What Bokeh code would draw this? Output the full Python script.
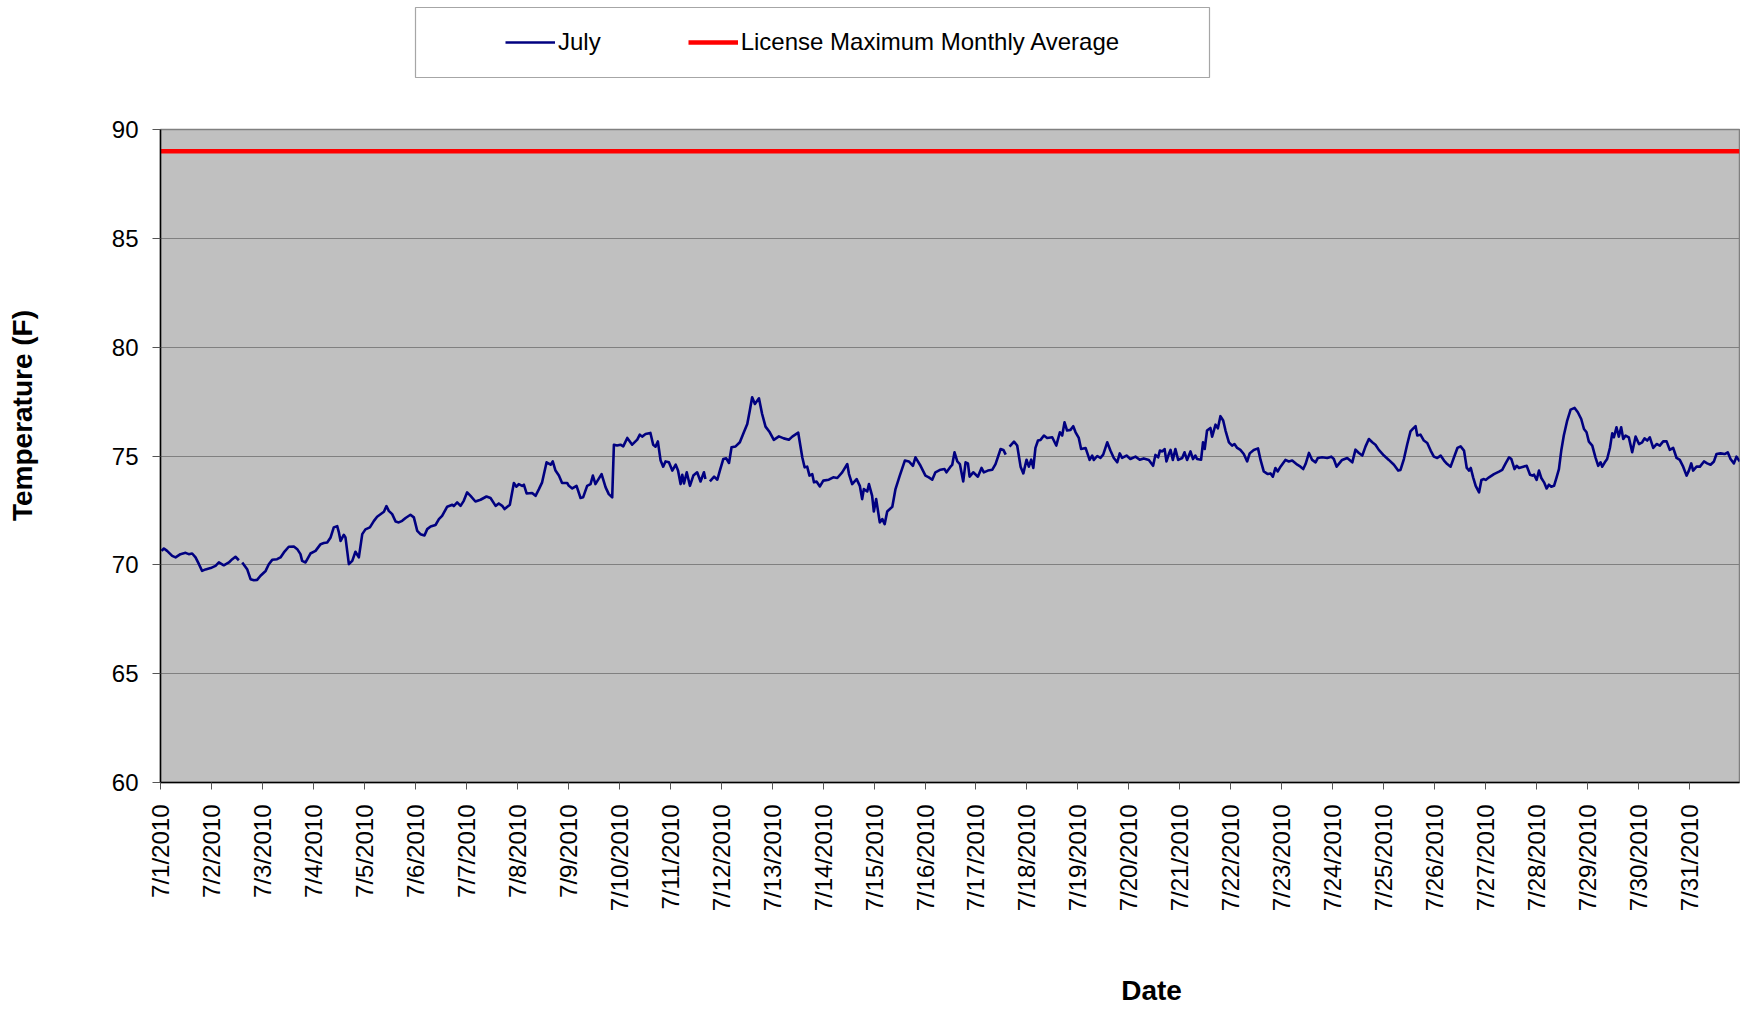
import math
from bokeh.plotting import figure
from bokeh.layouts import column, row
from bokeh.models import (ColumnDataSource, FixedTicker, Legend, LegendItem, Label, Range1d)
from bokeh.embed import file_html
from bokeh.resources import INLINE

nan = float("nan")

# ---------------- data ----------------
# hours since 7/1/2010 00:00, and water temperature (F)
hours_a = [0.5, 1.6, 3.1, 5.5, 7.1, 9.4, 11.8, 13.3, 14.9, 16.5,
           18.1, 19.6, 21.2, 23.6, 25.9, 27.5, 29.8, 32.2, 33.8, 35.3,
           36.9, 37.7, 38.5, 40.8, 42.4, 44.0, 45.5, 47.1, 49.5, 51.0,
           52.6, 54.9, 56.5, 58.1, 60.4, 62.8, 64.4, 65.9, 66.7, 68.3,
           70.6, 73.0, 75.4, 76.9, 78.5, 80.1, 81.6, 83.2, 84.0, 84.8,
           86.3, 87.1, 88.7, 90.3, 91.8, 93.4, 95.0, 96.5, 98.6, 100.5,
           102.0, 105.2, 106.4, 107.5, 109.1, 110.7, 112.2, 113.8, 115.4, 117.7,
           119.3, 120.9, 122.4, 124.3, 125.6, 127.2, 129.5, 131.1, 132.6, 135.0,
           137.4, 138.1, 139.7, 141.3, 142.8, 144.4, 146.0, 148.3, 150.7, 153.5,
           155.4, 157.8, 159.3, 160.9, 162.0, 164.5, 166.4, 167.6]
temps_a = [70.64, 70.75, 70.64, 70.41, 70.34, 70.49, 70.55, 70.49, 70.52, 70.34,
           70.03, 69.72, 69.79, 69.85, 69.95, 70.11, 69.98, 70.11, 70.26, 70.37,
           70.21, nan, 70.11, 69.80, 69.34, 69.29, 69.31, 69.50, 69.72, 70.03,
           70.23, 70.26, 70.34, 70.57, 70.83, 70.84, 70.72, 70.49, 70.18, 70.11,
           70.52, 70.64, 70.95, 71.00, 71.03, 71.26, 71.72, 71.78, 71.49, 71.10,
           71.38, 71.26, 70.03, 70.18, 70.60, 70.34, 71.41, 71.63, 71.72, 72.02,
           72.21, 72.44, 72.70, 72.48, 72.33, 71.99, 71.95, 72.02, 72.15, 72.30,
           72.18, 71.56, 71.41, 71.35, 71.64, 71.76, 71.83, 72.10, 72.25, 72.67,
           72.76, 72.70, 72.87, 72.71, 72.94, 73.33, 73.17, 72.91, 72.99, 73.14,
           73.07, 72.71, 72.82, 72.71, 72.56, 72.76, 73.76, 73.59]

hours_b = [168.0, 168.7, 170.3, 171.1, 172.4, 175.0, 176.6, 178.2, 179.7, 181.8,
           183.7, 184.7, 186.0, 187.6, 189.1, 191.5, 192.3, 193.9, 195.9, 197.8,
           199.0, 200.9, 202.5, 203.6, 204.8, 207.7, 209.6, 211.1, 212.7, 213.5,
           215.0, 216.6, 217.9, 219.8, 222.1, 224.5, 225.7, 226.8, 228.4, 230.7,
           232.0, 233.1, 234.2, 235.5, 236.7, 237.8, 239.4, 241.0, 242.6, 243.7,
           244.9, 245.7, 246.5, 247.8, 249.3, 250.9, 252.7, 254.3, 255.9, 256.6,
           257.6, 258.7, 260.7, 262.2, 263.4, 265.0, 266.4, 267.7, 268.9, 270.8,
           272.8, 274.7, 276.3, 277.5, 278.6, 279.9, 281.8, 283.3, 284.9, 286.9,
           288.8, 291.2, 293.5, 295.9, 297.5, 300.3, 302.2, 303.3, 304.5, 305.6,
           306.9, 307.7, 308.9, 310.5, 312.1, 314.7, 316.8, 318.7, 321.0, 323.4,
           324.2, 325.7, 327.8, 329.3, 330.4, 331.2, 332.8, 333.6, 335.1, 335.9,
           337.0, 338.7, 339.9, 341.0, 342.2, 344.6, 346.1, 348.0, 350.5, 352.4,
           354.3, 355.5, 357.6]
temps_b = [73.63, 73.71, 73.63, 73.68, 73.28, 73.30, 73.17, 73.48, 73.79, 74.71,
           74.60, 74.75, 74.33, 74.10, 73.76, 73.76, 73.63, 73.51, 73.63, 73.07,
           73.10, 73.63, 73.71, 74.10, 73.71, 74.17, 73.56, 73.25, 73.10, 75.52,
           75.48, 75.52, 75.44, 75.83, 75.52, 75.75, 75.98, 75.89, 76.01, 76.06,
           75.52, 75.43, 75.67, 74.79, 74.51, 74.75, 74.71, 74.33, 74.60, 74.33,
           73.71, 74.14, 73.74, 74.25, 73.63, 74.10, 74.25, 73.83, 74.25, 73.94,
           nan, 73.83, 74.05, 73.91, 74.33, 74.86, 74.89, 74.68, 75.40, 75.44,
           75.63, 76.09, 76.47, 77.09, 77.70, 77.39, 77.65, 76.93, 76.35, 76.09,
           75.74, 75.90, 75.81, 75.75, 75.89, 76.07, 74.94, 74.48, 74.51, 74.10,
           74.17, 73.79, 73.83, 73.60, 73.87, 73.91, 74.02, 73.99, 74.25, 74.63,
           74.17, 73.71, 73.94, 73.63, 73.02, 73.48, 73.37, 73.71, 73.17, 72.45,
           73.02, 71.95, 72.10, 71.87, 72.45, 72.67, 73.48, 74.06, 74.79, 74.75,
           74.55, 74.94, 74.60]

hours_c = [360.2, 361.8, 363.4, 364.9, 367.3, 369.2, 370.1, 372.0, 372.8, 373.9,
           375.2, 376.4, 378.0, 379.1, 380.2, 381.0, 382.7, 384.9, 386.6, 387.7,
           389.6, 391.7, 393.2, 395.6, 396.9, 398.0, 398.9, 399.8, 401.9, 403.4,
           405.0, 406.3, 407.8, 408.9, 410.0, 411.0, 412.0, 413.2, 414.4, 416.0,
           417.5, 419.9, 421.8, 423.5, 424.6, 425.7, 426.9, 428.5, 429.8, 430.9,
           432.4, 433.5, 435.6, 437.5, 438.7, 439.5, 441.1, 442.6, 443.9, 445.8,
           447.3, 448.9, 450.5, 451.7, 452.8, 454.9, 456.7, 459.1, 461.1, 463.0,
           465.4, 467.4, 468.5, 469.8, 470.6, 471.7, 472.8, 473.7, 474.8, 475.6,
           476.7, 477.9, 479.2, 481.1, 482.2, 483.4, 485.0, 486.2, 487.3, 488.1,
           490.0, 490.9, 491.7, 492.8, 494.4, 495.2, 496.8, 497.9, 499.1, 500.4,
           501.5, 503.1, 504.6, 505.7, 507.0, 508.5, 510.1, 511.7, 512.9, 514.8,
           516.8, 518.0, 519.5, 521.4, 522.7, 523.8, 525.0, 526.1, 527.4, 529.7,
           531.3, 532.9, 535.3]
temps_c = [74.10, 74.02, 73.91, 74.25, 74.37, 74.40, 74.25, 74.51, 74.59, 75.17,
           74.75, 74.63, 73.83, 74.71, 74.66, 74.05, 74.25, 74.05, 74.45, 74.25,
           74.33, 74.37, 74.63, 75.32, 75.28, 75.06, nan, 75.43, 75.66, 75.48,
           74.51, 74.20, 74.83, 74.51, 74.83, 74.45, 75.37, 75.71, 75.74, 75.94,
           75.83, 75.86, 75.48, 76.09, 75.94, 76.55, 76.17, 76.20, 76.37, 76.09,
           75.83, 75.32, 75.37, 74.82, 75.02, 74.82, 75.00, 74.91, 75.06, 75.63,
           75.25, 74.91, 74.71, 75.12, 74.91, 75.02, 74.86, 74.97, 74.83, 74.89,
           74.82, 74.55, 75.05, 74.94, 75.25, 75.21, 75.32, 74.75, 75.09, 75.28,
           74.82, 75.32, 74.82, 74.91, 75.17, 74.82, 75.21, 74.86, 75.02, 74.86,
           74.83, 75.63, 75.32, 76.17, 76.29, 75.89, 76.44, 76.27, 76.83, 76.63,
           76.17, 75.63, 75.48, 75.55, 75.37, 75.28, 75.09, 74.75, 75.12, 75.28,
           75.35, 74.82, 74.29, 74.17, 74.20, 74.05, 74.45, 74.29, 74.51, 74.82,
           74.75, 74.79, 74.60]

hours_d = [536.8, 538.1, 539.2, 540.8, 542.3, 543.9, 545.0, 547.0, 549.4, 551.3,
           552.5, 553.8, 556.4, 558.8, 561.2, 562.7, 564.3, 565.9, 567.4, 569.0,
           570.6, 572.1, 573.7, 576.1, 578.4, 580.8, 582.8, 583.9, 585.5, 587.1,
           588.6, 589.9, 591.0, 591.8, 593.3, 594.9, 596.5, 598.1, 599.6, 601.2,
           602.8, 604.4, 605.9, 607.5, 609.1, 610.7, 612.2, 613.8, 615.1, 616.2,
           617.0, 618.1, 619.3, 620.1, 620.9, 622.0, 623.2, 624.0, 625.6, 627.9,
           630.3, 631.8, 633.4, 635.0, 636.1, 637.6, 638.6, 639.7, 641.7, 643.3,
           644.9, 646.0, 646.8, 648.0, 649.1, 650.2, 651.5, 652.7, 653.8, 654.9,
           656.2, 657.4, 658.5, 659.6, 660.8, 662.4, 664.0, 665.9, 667.4, 669.0,
           670.3, 671.5, 672.6, 674.2, 675.7, 677.0, 678.1, 678.9, 680.1, 681.2,
           682.5, 683.6, 684.4, 685.6, 686.7, 687.8, 688.8, 689.9, 691.4, 693.0,
           694.6, 696.2, 697.7, 698.8, 700.1, 701.3, 702.9, 704.5, 706.0, 707.6,
           709.2, 710.7, 712.3, 713.9, 715.4, 717.0, 718.6, 719.7, 720.8, 721.7,
           723.3, 724.9, 726.8, 728.3, 729.9, 731.5, 732.7, 734.6, 736.5, 738.0,
           739.3, 740.9, 742.1, 743.7]
temps_d = [74.51, 74.40, 74.63, 75.14, 74.82, 74.71, 74.91, 74.94, 74.91, 74.97,
           74.86, 74.51, 74.82, 74.91, 74.71, 75.29, 75.14, 75.02, 75.43, 75.78,
           75.63, 75.52, 75.28, 75.02, 74.82, 74.60, 74.33, 74.36, 74.86, 75.55,
           76.13, 76.27, 76.37, 75.94, 75.98, 75.71, 75.60, 75.25, 74.97, 74.91,
           75.02, 74.79, 74.63, 74.51, 74.94, 75.37, 75.44, 75.25, 74.45, 74.33,
           74.45, 74.02, 73.63, 73.48, 73.33, 73.90, 73.94, 73.90, 74.02, 74.17,
           74.28, 74.36, 74.66, 74.94, 74.86, 74.40, 74.55, 74.45, 74.51, 74.55,
           74.14, 74.10, 74.14, 73.90, 74.33, 73.99, 73.79, 73.51, 73.68, 73.59,
           73.63, 74.02, 74.40, 75.25, 75.94, 76.63, 77.13, 77.21, 77.01, 76.70,
           76.24, 76.09, 75.66, 75.48, 74.94, 74.55, 74.71, 74.51, 74.71, 74.86,
           75.37, 76.04, 75.86, 76.32, 75.89, 76.32, 75.78, 75.94, 75.86, 75.17,
           75.89, 75.55, 75.63, 75.81, 75.71, 75.86, 75.37, 75.55, 75.48, 75.67,
           75.67, 75.28, 75.37, 74.91, 74.82, 74.51, 74.10, 74.33, 74.66, 74.33,
           74.51, 74.51, 74.75, 74.66, 74.60, 74.75, 75.09, 75.12, 75.09, 75.17,
           74.86, 74.66, 74.97, 74.75]

limit_value = 89
tick_days = list(range(31))
tick_labels = ["7/%d/2010" % d for d in range(1, 32)]
y_ticks = [60, 65, 70, 75, 80, 85, 90]
series_names = ["July", "License Maximum Monthly Average"]
x_title = "Date"
y_title = "Temperature (F)"

# ---------------- styles / page geometry (page px) ----------------
FONT = "Liberation Sans"
NAVY = "#000080"
RED = "#FF0000"
JULY_W = 2.6
LIM_W = 4.5
TOTAL_W = 1740
TOTAL_H = 1020
BOX_L, BOX_R, BOX_T, BOX_B = 415, 1209, 7, 77      # legend box
FR_L, FR_T, FR_B = 160, 129, 782                    # chart frame
LEG_H = 100
YT_W = 45
XT_H = 60
MAIN_W = TOTAL_W - YT_W
MAIN_H = TOTAL_H - LEG_H - XT_H

# ---------------- main chart ----------------
hours = hours_a + hours_b + hours_c + hours_d
temps = temps_a + temps_b + temps_c + temps_d
days = [h / 24.0 for h in hours]
src = ColumnDataSource(dict(day=days, temp=temps))

BL = FR_L - YT_W
BR = 1
BT = FR_T - LEG_H
BB = LEG_H + MAIN_H - FR_B
frame_w = MAIN_W - BL - BR
x_end = 31 * frame_w / 1580.0   # keep the reference's px-per-day
lim_src = ColumnDataSource(dict(day=[0, x_end], temp=[limit_value, limit_value]))

p = figure(width=MAIN_W, height=MAIN_H, output_backend="svg", toolbar_location=None,
           x_range=Range1d(0, x_end), y_range=Range1d(60, 90),
           min_border_left=BL, min_border_right=BR, min_border_top=BT,
           min_border_bottom=BB, title=None)
p.background_fill_color = "#C0C0C0"
p.border_fill_color = "white"
p.outline_line_color = "#808080"
p.outline_line_width = 1.5

p.line("day", "temp", source=lim_src, line_color=RED, line_width=LIM_W)
p.line("day", "temp", source=src, line_color=NAVY, line_width=JULY_W, line_join="round")

p.xgrid.visible = False
p.ygrid.ticker = FixedTicker(ticks=y_ticks)
p.ygrid.grid_line_color = "#808080"
p.ygrid.grid_line_width = 1

p.xaxis.ticker = FixedTicker(ticks=tick_days)
p.xaxis.major_label_overrides = {d: lbl for d, lbl in zip(tick_days, tick_labels)}
p.xaxis.major_label_orientation = math.pi / 2
p.yaxis.ticker = FixedTicker(ticks=y_ticks)
for ax in (p.xaxis[0], p.yaxis[0]):
    ax.axis_line_color = "black"
    ax.axis_line_width = 1.5
    ax.major_tick_line_color = "#555555"
    ax.major_tick_in = 0
    ax.minor_tick_line_color = None
    ax.major_label_text_font = FONT
    ax.major_label_text_font_size = "24px"
    ax.major_label_text_color = "black"
p.xaxis.major_tick_out = 7
p.xaxis.major_label_standoff = 15
p.yaxis.major_tick_out = 8
p.yaxis.major_label_standoff = 14

# ---------------- legend strip (its frame is the legend box) ----------------
lg = figure(width=TOTAL_W, height=LEG_H, output_backend="svg", toolbar_location=None,
            x_axis_type=None, y_axis_type=None, x_range=Range1d(0, 1), y_range=Range1d(0, 1),
            min_border_left=BOX_L, min_border_right=TOTAL_W - BOX_R,
            min_border_top=BOX_T, min_border_bottom=LEG_H - BOX_B, title=None)
lg.grid.visible = False
lg.background_fill_color = "white"
lg.border_fill_color = "white"
lg.outline_line_color = "#A6A6A6"
lg.outline_line_width = 1.2
# same data as the chart; it falls outside this strip's ranges, only the legend shows
lr_july = lg.line("day", "temp", source=src, line_color=NAVY, line_width=JULY_W)
lr_lim = lg.line("day", "temp", source=lim_src, line_color=RED, line_width=LIM_W)
legend = Legend(items=[LegendItem(label=series_names[0], renderers=[lr_july]),
                       LegendItem(label=series_names[1], renderers=[lr_lim])],
                orientation="horizontal", location=(505 - 21 - BOX_L, 0),
                padding=21, spacing=87, glyph_width=50, glyph_height=28,
                label_height=28, label_standoff=3,
                label_text_font=FONT, label_text_font_size="24px",
                label_text_color="black",
                border_line_alpha=0, background_fill_alpha=0, margin=0)
lg.add_layout(legend, "center")

# ---------------- y-axis title strip (frame matches chart frame rows) ----------------
yt = figure(width=YT_W, height=MAIN_H, output_backend="svg", toolbar_location=None,
            x_axis_type=None, y_axis_type=None, title=None,
            min_border_left=0, min_border_right=0, min_border_top=BT, min_border_bottom=BB,
            x_range=Range1d(0, 1), y_range=Range1d(0, 1))
yt.grid.visible = False
yt.outline_line_color = None
yt.background_fill_color = "white"
yt.add_layout(Label(x=22, y=FR_B - 415, x_units="screen", y_units="screen",
                    text=y_title, angle=math.pi / 2, text_align="center",
                    text_baseline="middle", text_font=FONT, text_font_style="bold",
                    text_font_size="28px", text_color="black"))

# ---------------- x-axis title strip (frame columns match legend box) ----------------
xt = figure(width=TOTAL_W, height=XT_H, output_backend="svg", toolbar_location=None,
            x_axis_type=None, y_axis_type=None, title=None,
            min_border_left=BOX_L, min_border_right=TOTAL_W - BOX_R,
            min_border_top=0, min_border_bottom=0,
            x_range=Range1d(0, 1), y_range=Range1d(0, 1))
xt.grid.visible = False
xt.outline_line_color = None
xt.background_fill_color = "white"
xt.add_layout(Label(x=1151 - BOX_L, y=XT_H / 2, x_units="screen",
                    y_units="screen", text=x_title, text_align="center",
                    text_baseline="middle", text_font=FONT, text_font_style="bold",
                    text_font_size="28px", text_color="black"))

layout = column(lg, row(yt, p, spacing=0), xt, spacing=0)
open("out.html", "w").write(file_html(layout, INLINE))
